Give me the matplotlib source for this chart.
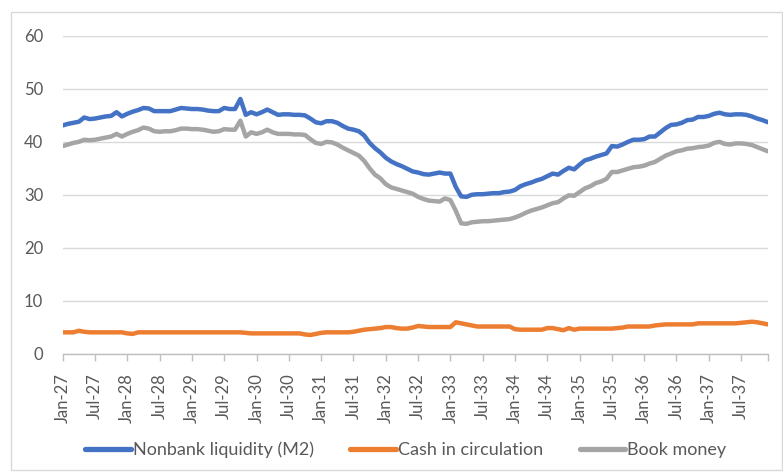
import matplotlib
matplotlib.use("Agg")
import matplotlib.pyplot as plt
from matplotlib.patches import Rectangle

plt.rcParams['font.family'] = ['Lato', 'DejaVu Sans']

months = ["Jan", "Feb", "Mar", "Apr", "May", "Jun", "Jul", "Aug", "Sep", "Oct", "Nov", "Dec"]
years = list(range(27, 38))
categories = [f"{m}-{y}" for y in years for m in months]

m2 = [43.1, 43.4, 43.6, 43.8, 44.6, 44.3, 44.4, 44.6, 44.8, 44.9, 45.6, 44.8,
      45.3, 45.7, 46.0, 46.4, 46.3, 45.8, 45.8, 45.8, 45.8, 46.1, 46.4, 46.3,
      46.2, 46.2, 46.1, 45.9, 45.8, 45.8, 46.4, 46.2, 46.2, 48.1, 45.1, 45.6,
      45.2, 45.6, 46.1, 45.6, 45.1, 45.2, 45.2, 45.1, 45.1, 45.0, 44.4, 43.7,
      43.5, 43.9, 43.9, 43.6, 43.0, 42.5, 42.3, 42.0, 41.2, 39.8, 38.8, 38.0,
      37.0, 36.3, 35.8, 35.4, 34.9, 34.4, 34.2, 33.9, 33.8, 34.0, 34.2, 34.0,
      34.0, 31.5, 29.7, 29.6, 30.0, 30.1, 30.1, 30.2, 30.3, 30.3, 30.5, 30.6,
      30.9, 31.6, 32.0, 32.3, 32.7, 33.0, 33.5, 34.0, 33.8, 34.5, 35.1, 34.8,
      35.7, 36.5, 36.8, 37.2, 37.5, 37.8, 39.2, 39.1, 39.5, 40.0, 40.4, 40.4,
      40.5, 41.0, 41.0, 41.8, 42.6, 43.2, 43.3, 43.6, 44.1, 44.2, 44.7, 44.7,
      44.9, 45.3, 45.5, 45.2, 45.1, 45.2, 45.2, 45.1, 44.8, 44.4, 44.1, 43.7]

cash = [4.0, 4.0, 4.0, 4.3, 4.1, 4.0, 4.0, 4.0, 4.0, 4.0, 4.0, 4.0,
        3.8, 3.7, 4.0, 4.0, 4.0, 4.0, 4.0, 4.0, 4.0, 4.0, 4.0, 4.0,
        4.0, 4.0, 4.0, 4.0, 4.0, 4.0, 4.0, 4.0, 4.0, 4.0, 3.9, 3.8,
        3.8, 3.8, 3.8, 3.8, 3.8, 3.8, 3.8, 3.8, 3.8, 3.6, 3.5, 3.7,
        3.9, 4.0, 4.0, 4.0, 4.0, 4.0, 4.1, 4.3, 4.5, 4.6, 4.7, 4.8,
        5.0, 5.0, 4.8, 4.7, 4.7, 4.9, 5.2, 5.1, 5.0, 5.0, 5.0, 5.0,
        5.0, 5.9, 5.7, 5.5, 5.3, 5.1, 5.1, 5.1, 5.1, 5.1, 5.1, 5.1,
        4.6, 4.5, 4.5, 4.5, 4.5, 4.5, 4.8, 4.8, 4.6, 4.4, 4.8, 4.5,
        4.7, 4.7, 4.7, 4.7, 4.7, 4.7, 4.7, 4.8, 4.9, 5.1, 5.1, 5.1,
        5.1, 5.1, 5.3, 5.4, 5.5, 5.5, 5.5, 5.5, 5.5, 5.5, 5.7, 5.7,
        5.7, 5.7, 5.7, 5.7, 5.7, 5.7, 5.8, 5.9, 6.0, 5.9, 5.7, 5.5]

book = [39.2, 39.5, 39.8, 40.0, 40.4, 40.3, 40.4, 40.6, 40.8, 41.0, 41.5, 41.0,
        41.5, 41.9, 42.2, 42.7, 42.5, 42.0, 41.9, 42.0, 42.0, 42.2, 42.5, 42.5,
        42.4, 42.4, 42.3, 42.1, 41.9, 42.0, 42.4, 42.3, 42.3, 44.0, 41.0, 41.8,
        41.5, 41.8, 42.3, 41.8, 41.5, 41.5, 41.5, 41.4, 41.4, 41.3, 40.5, 39.8,
        39.6, 40.0, 39.9, 39.5, 38.9, 38.4, 37.9, 37.4, 36.4, 35.0, 33.8, 33.1,
        32.0, 31.4, 31.1, 30.8, 30.5, 30.2, 29.6, 29.2, 28.9, 28.8, 28.7, 29.3,
        29.0, 27.0, 24.6, 24.5, 24.8, 24.9, 25.0, 25.0, 25.1, 25.2, 25.3, 25.4,
        25.7, 26.1, 26.6, 27.0, 27.3, 27.6, 28.0, 28.4, 28.6, 29.3, 29.9, 29.8,
        30.5, 31.2, 31.6, 32.2, 32.5, 33.0, 34.3, 34.3, 34.6, 34.9, 35.2, 35.3,
        35.5, 35.9, 36.2, 36.8, 37.4, 37.8, 38.2, 38.4, 38.7, 38.8, 39.0, 39.1,
        39.3, 39.8, 40.0, 39.6, 39.5, 39.7, 39.7, 39.6, 39.4, 39.0, 38.6, 38.2]

series_names = ["Nonbank liquidity (M2)", "Cash in circulation", "Book money"]
colors = ["#4472C4", "#ED7D31", "#A5A5A5"]
y_ticks = [0, 10, 20, 30, 40, 50, 60]

fig = plt.figure(figsize=(7.83, 4.74), dpi=100)
# chart border
fig.patches.append(Rectangle((11 / 783, 4 / 474), 771 / 783, 458 / 474,
                             transform=fig.transFigure, fill=False,
                             edgecolor="#D9D9D9", linewidth=1.0))

ax = fig.add_axes([62.7 / 783, 1 - 353.5 / 474, (768 - 62.7) / 783, (353.5 - 36) / 474])
x = list(range(len(categories)))
for vals, name, c in zip([m2, cash, book], series_names, colors):
    ax.plot(x, vals, color=c, linewidth=3.2, label=name, solid_capstyle="round",
            solid_joinstyle="round")

ax.set_xlim(0, len(categories) - 1)
ax.set_ylim(0, 60)
ax.set_yticks(y_ticks)
ax.set_yticklabels([str(v) for v in y_ticks], fontsize=12, color="#595959")
ax.yaxis.grid(True, color="#D9D9D9", linewidth=1.0)
ax.set_axisbelow(True)
ax.tick_params(axis="y", length=0, pad=14)

label_idx = list(range(0, len(categories), 6))
ax.set_xticks(label_idx + [len(categories) - 1])
ax.set_xticklabels([categories[i] for i in label_idx] + [""], rotation=90,
                   fontsize=12, color="#595959")
ax.tick_params(axis="x", length=5, width=1, color="#BFBFBF", direction="out", pad=9)

for s in ["top", "right", "left"]:
    ax.spines[s].set_visible(False)
ax.spines["bottom"].set_color("#BFBFBF")
ax.spines["bottom"].set_linewidth(1.0)

leg = fig.legend(loc="center", bbox_to_anchor=(406 / 783, 1 - 450 / 474), ncol=3,
                 frameon=False, fontsize=13, handlelength=2.5, handletextpad=0.15,
                 columnspacing=2.0)
for t in leg.get_texts():
    t.set_color("#595959")
for h in leg.get_lines():
    h.set_linewidth(3.8)

fig.savefig("out.png", dpi=100)
